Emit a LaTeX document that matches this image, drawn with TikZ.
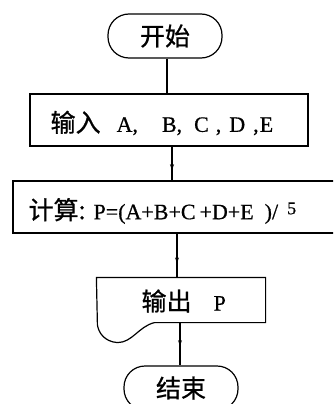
\documentclass[tikz,border=0pt]{standalone}
\usepackage{fontspec}
\setmainfont[FakeBold=0.6]{Liberation Serif}
\newfontfamily\cjk[FakeBold=0.8]{Noto Sans CJK SC}
\usetikzlibrary{arrows.meta,decorations.markings}
\begin{document}
\begin{tikzpicture}[x=1pt,y=-1pt, line width=1.2pt,
  term/.style={draw, rounded corners=21pt, minimum width=114pt, minimum height=44pt, inner sep=0pt, font=\cjk\fontsize{25}{28}\selectfont},
  procbox/.style={draw, inner sep=0pt},
  lat/.style={font=\fontsize{22}{25}\selectfont, inner sep=0pt},
  midarrow/.style={postaction={decorate}, decoration={markings, mark=at position #1 with {\arrow{Stealth[length=6pt,width=4pt]}}}},
  flow/.style={line width=1.2pt}]
\useasboundingbox (0,0) rectangle (333,404);
\clip (0,0) rectangle (333,404);
% start
\node[term] (start) at (165,36) {开始};
% input
\node[procbox, minimum width=278pt, minimum height=52pt] (in) at (169,120) {};
\node[lat, anchor=west] (intext) at (50,123) {{\cjk\fontsize{25}{28}\selectfont 输入}\hspace{16pt}A,\hspace{24pt}B,\hspace{12pt}C\hspace{7pt},\hspace{8pt}D\hspace{8pt},\hspace{1pt}E};
% calc
\node[procbox, minimum width=322pt, minimum height=52pt] (calc) at (174,207) {};
\node[lat, anchor=west] (calctext) at (28,211) {{\cjk\fontsize{25}{28}\selectfont 计算:}\hspace{8pt}P=(A+B+C\hspace{4pt}+D+E\hspace{11pt})/\hspace{9pt}\raisebox{5pt}{\fontsize{18}{20}\selectfont 5}};
% output (document shape)
\node[minimum width=168pt, minimum height=44pt, inner sep=0pt] (out) at (181,300) {};
\draw (out.north west) -- (out.north east) -- (out.south east) -- ([xshift=58pt]out.south west)
  .. controls ([xshift=42pt,yshift=-4pt]out.south west) and ([xshift=36pt,yshift=-20pt]out.south west) .. ([xshift=21pt,yshift=-20pt]out.south west)
  .. controls ([xshift=8pt,yshift=-19pt]out.south west) and ([xshift=2pt,yshift=-10pt]out.south west) .. ([xshift=1pt,yshift=-2pt]out.south west)
  -- cycle;
\node[lat, anchor=west] (outtext) at (141,301) {{\cjk\fontsize{25}{28}\selectfont 输出}\hspace{22pt}P};
% end
\node[term] (stop) at (181,388) {结束};
% connectors
\draw[flow] ([xshift=2pt]start.south) -- ([xshift=2pt]start.south |- in.north);
\draw[flow, midarrow=0.7] ([xshift=3pt]in.south) -- ([xshift=3pt]in.south |- calc.north);
\draw[flow, midarrow=0.68] ([xshift=3pt]calc.south) -- ([xshift=3pt]calc.south |- out.north);
\coordinate (outbot) at ([xshift=-1pt]out.south);
\draw[flow, midarrow=0.55] (outbot) -- (outbot |- stop.north);
\end{tikzpicture}
\end{document}
